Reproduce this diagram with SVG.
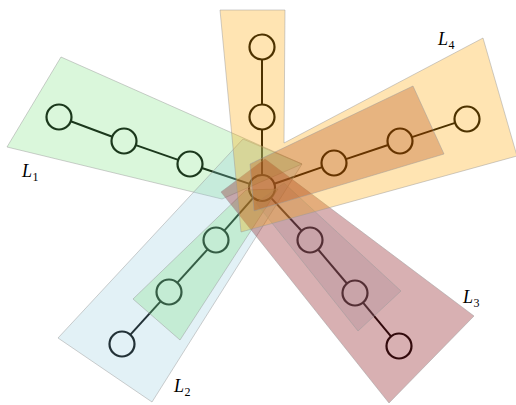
<svg xmlns="http://www.w3.org/2000/svg" width="516" height="405" viewBox="0 0 516 405">
<style>
.edge{stroke:#000;stroke-width:2;fill:none}
.node{stroke:#000;stroke-width:2.2;fill:none}
.reg{stroke:#999;stroke-width:0.8;stroke-opacity:0.6}
.g{fill:#6bdf6f;fill-opacity:0.25}
.b{fill:#8bc7db;fill-opacity:0.25}
.o{fill:#ffa500;fill-opacity:0.3}
.m{fill:#8f1d23;fill-opacity:0.35}
.mi{fill:#a48894;fill-opacity:0.3}
.oi{fill:#a83a00;fill-opacity:0.28}
.lbl{font-family:"Liberation Serif",serif;font-style:italic;font-size:18px;fill:#000}
.sub{font-family:"Liberation Serif",serif;font-size:12px;fill:#000}
</style>
<rect width="516" height="405" fill="#fff"/>
<g id="connectors">
<line class="edge" x1="262" y1="175" x2="262" y2="129.5"/>
<line class="edge" x1="262" y1="104.5" x2="262" y2="59.5"/>
<line class="edge" x1="274.3" y1="183.7" x2="322.2" y2="167.1"/>
<line class="edge" x1="345.9" y1="159.1" x2="388.1" y2="145"/>
<line class="edge" x1="411.9" y1="137.1" x2="455.1" y2="122.9"/>
<line class="edge" x1="249.7" y1="183.9" x2="201.9" y2="168"/>
<line class="edge" x1="178.2" y1="159.9" x2="135.8" y2="145.1"/>
<line class="edge" x1="112.3" y1="136.7" x2="70.7" y2="121.3"/>
<line class="edge" x1="253.4" y1="197.7" x2="224.3" y2="230.6"/>
<line class="edge" x1="207.6" y1="249.3" x2="177.4" y2="282.7"/>
<line class="edge" x1="160.6" y1="301.3" x2="130.4" y2="334.7"/>
<line class="edge" x1="270.8" y1="197.6" x2="301.5" y2="230.8"/>
<line class="edge" x1="318.1" y1="249.5" x2="346.9" y2="283.5"/>
<line class="edge" x1="363" y1="302.6" x2="391" y2="336.4"/>
</g>
<g id="n0"><circle class="node" cx="262" cy="188" r="13"/></g>
<g id="n1"><circle class="node" cx="262" cy="117" r="12.5"/></g>
<g id="n2"><circle class="node" cx="262" cy="47" r="12.5"/></g>
<g id="n3"><circle class="node" cx="334" cy="163" r="12.5"/></g>
<g id="n4"><circle class="node" cx="400" cy="141" r="12.5"/></g>
<g id="n5"><circle class="node" cx="467" cy="119" r="12.5"/></g>
<g id="n6"><circle class="node" cx="190" cy="164" r="12.5"/></g>
<g id="n7"><circle class="node" cx="124" cy="141" r="12.5"/></g>
<g id="n8"><circle class="node" cx="59" cy="117" r="12.5"/></g>
<g id="n9"><circle class="node" cx="216" cy="240" r="12.5"/></g>
<g id="n10"><circle class="node" cx="169" cy="292" r="12.5"/></g>
<g id="n11"><circle class="node" cx="122" cy="344" r="12.5"/></g>
<g id="n12"><circle class="node" cx="310" cy="240" r="12.5"/></g>
<g id="n13"><circle class="node" cx="355" cy="293" r="12.5"/></g>
<g id="n14"><circle class="node" cx="399" cy="346" r="12.5"/></g>
<g id="L1"><polygon class="reg g" points="61,57 302,164 222,199 7,147"/></g>
<g id="L2"><polygon class="reg b" points="58,338 243,139 302,164 152,402"/>
<polygon class="reg g" points="133,299 180,340 278,189 246,190"/></g>
<g id="L3"><polygon class="reg m" points="221,192 265,159 474,316 389,403"/>
<polygon class="reg mi" points="256,203 284,183 401,291 358,331"/></g>
<g id="L4"><polygon class="reg o" points="220,10 285,10 284,143 483,38 517,156 241,232"/>
<polygon class="reg oi" points="250,164 413,86 444,154 254,211"/></g>
<g id="labels">
<text class="lbl" x="22" y="177">L</text><text class="sub" x="32.5" y="181">1</text>
<text class="lbl" x="174" y="392">L</text><text class="sub" x="184.5" y="396">2</text>
<text class="lbl" x="463" y="303">L</text><text class="sub" x="473.5" y="307">3</text>
<text class="lbl" x="438" y="45">L</text><text class="sub" x="448.5" y="49">4</text>
</g>
</svg>
